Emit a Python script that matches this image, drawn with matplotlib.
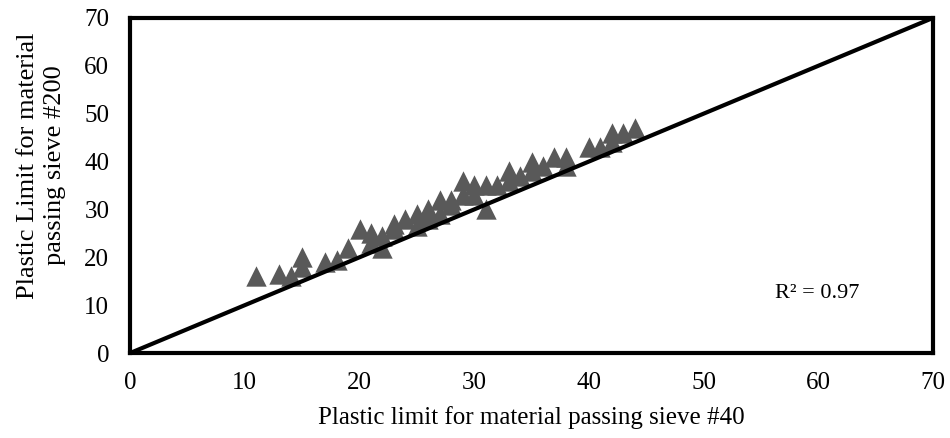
import numpy as np
import matplotlib.pyplot as plt

plt.rcParams['font.family'] = ['Liberation Serif', 'DejaVu Serif']

# Plastic limit, sieve #40 vs sieve #200
pl_40 = [11, 13, 14, 15, 15, 17, 18, 19, 20, 21, 21, 22, 22, 23, 23, 24, 25, 25,
         26, 26, 27, 27, 28, 28, 29, 29, 30, 30, 31, 31, 32, 33, 33, 34, 35, 35,
         36, 37, 38, 38, 40, 41, 42, 42, 43, 44]
pl_200 = [16, 16.5, 16, 18, 20, 19, 19.5, 22, 26, 25, 23, 22, 24.5, 26, 27, 28, 29, 26.5,
          30, 28, 32, 29, 32, 31, 36, 33, 35, 33, 35, 30, 35, 38, 36, 37, 40, 38,
          39, 41, 41, 39, 43, 43, 46, 44, 46, 47]
line_ends = [0, 70]
ticks = np.arange(0, 71, 10)

fig = plt.figure(figsize=(9.5, 4.38), dpi=100)
ax = fig.add_axes([0.137, 0.194, 0.845, 0.765])

ax.scatter(pl_40, pl_200, marker='^', s=215, color='#595959', zorder=2, linewidths=0)
ax.plot(line_ends, line_ends, color='black', linewidth=3, zorder=3)

ax.set_xlim(0, 70)
ax.set_ylim(0, 70)
ax.set_xticks(ticks)
ax.set_yticks(ticks)
ax.tick_params(length=0, labelsize=18)
ax.tick_params(axis='x', pad=14)
ax.tick_params(axis='y', pad=15)
for sp in ax.spines.values():
    sp.set_linewidth(3)

ax.set_xlabel('Plastic limit for material passing sieve #40', fontsize=18, labelpad=8)
ax.set_ylabel('Plastic Limit for material\npassing sieve #200', fontsize=19,
              linespacing=1.3)
ax.yaxis.set_label_coords(-0.08, 0.56)
ax.text(59.9, 12.5, 'R² = 0.97', fontsize=16, ha='center', va='center')

fig.savefig('out.png', dpi=100)
